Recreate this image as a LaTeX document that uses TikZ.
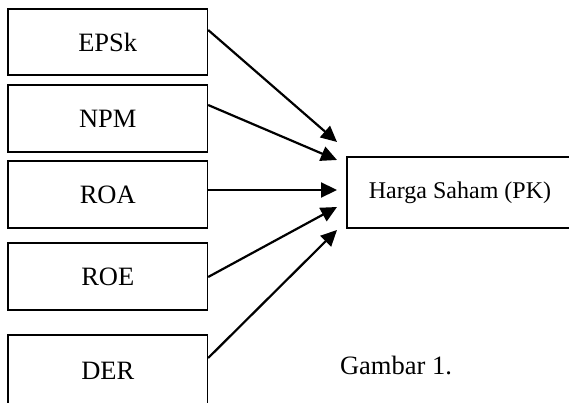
\documentclass[tikz,border=0pt]{standalone}
\usepackage{fontspec}
\setmainfont{Liberation Serif}
\usetikzlibrary{arrows.meta}
\begin{document}
\begin{tikzpicture}[x=1pt,y=-1pt,
  varbox/.style={draw,line width=1.3pt,minimum width=199.5pt,minimum height=66pt,inner sep=0pt,font=\fontsize{26.5}{29}\selectfont},
  arr/.style={line width=2.2pt,-{Triangle[length=16pt,width=15pt]}}]
\clip (0,0) rectangle (569,403);
\fill[white] (0,0) rectangle (569,403);
\node[varbox] (epsk) at (107.75,42) {EPSk};
\node[varbox,minimum height=67pt] (npm) at (107.75,118.5) {NPM};
\node[varbox,minimum height=67pt] (roa) at (107.75,194.5) {ROA};
\node[varbox,minimum height=67pt] (roe) at (107.75,276.5) {ROE};
\node[varbox,minimum height=72pt] (der) at (107.75,371) {DER};
\node[draw,line width=1.3pt,minimum width=226pt,minimum height=71pt,inner sep=0pt,
      font=\fontsize{24}{27}\selectfont] (harga) at (460,192.5) {Harga Saham (PK)};
\node[font=\fontsize{26.5}{29}\selectfont,inner sep=0pt] (gambar) at (396,365) {Gambar 1.};
\coordinate (t1) at (337,142);
\coordinate (t2) at (337,160);
\coordinate (t3) at (337,190);
\coordinate (t4) at (337,207);
\coordinate (t5) at (337,230);
\draw[arr] (epsk.east |- 0,30) -- (t1);
\draw[arr] (npm.east |- 0,105) -- (t2);
\draw[arr] (roa.east |- 0,190) -- (t3);
\draw[arr] (roe.east |- 0,277) -- (t4);
\draw[arr] (der.east |- 0,358) -- (t5);
\end{tikzpicture}
\end{document}
